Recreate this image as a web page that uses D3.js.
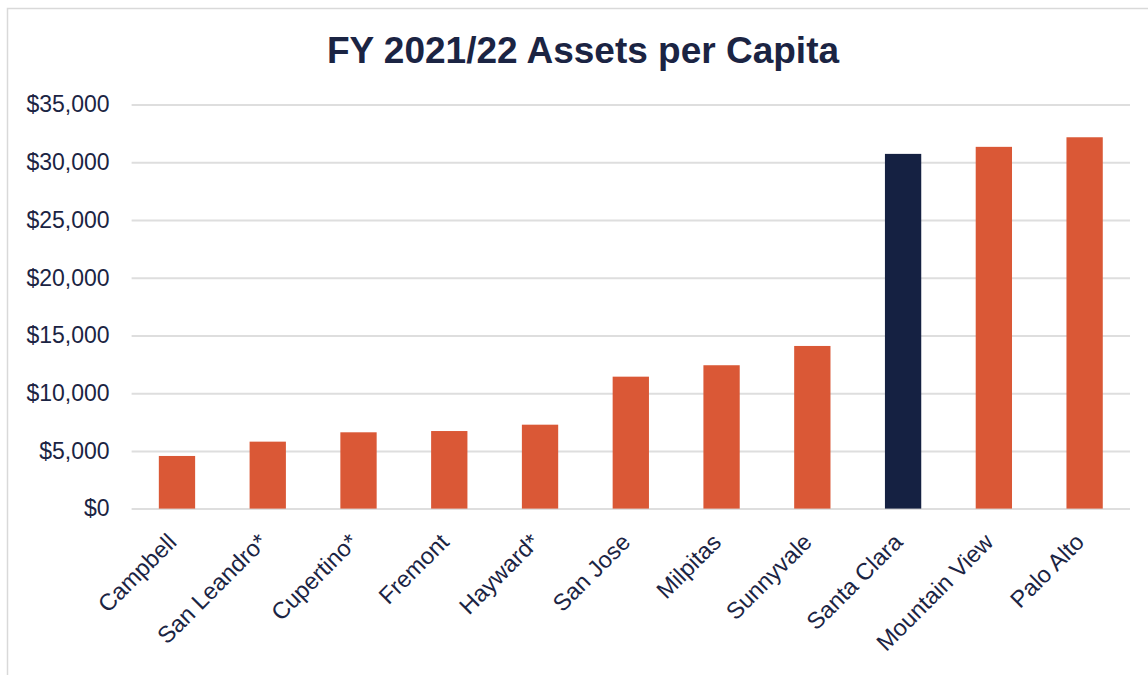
<!DOCTYPE html>
<html>
<head>
<meta charset="utf-8">
<script src="https://cdn.jsdelivr.net/npm/d3@7"></script>
<style>
  html, body { margin: 0; padding: 0; background: #ffffff; }
  svg { display: block; }
</style>
</head>
<body>
<svg id="chart" width="1148" height="675"></svg>
<script>
const categories = ["Campbell", "San Leandro*", "Cupertino*", "Fremont", "Hayward*", "San Jose", "Milpitas", "Sunnyvale", "Santa Clara", "Mountain View", "Palo Alto"];
const values = [4560, 5800, 6610, 6720, 7270, 11430, 12420, 14090, 30730, 31340, 32170];
const highlight = ["Santa Clara"];
const yTicks = [0, 5000, 10000, 15000, 20000, 25000, 30000, 35000];
const title = "FY 2021/22 Assets per Capita";

const textColor = "#1b2443";
const orange = "#DA5836";
const navy = "#152142";
const gridColor = "#dedede";
const font = "'Liberation Sans', Arial, sans-serif";

const svg = d3.select("#chart");

// Outer chart border
svg.append("rect")
  .attr("x", 7.5).attr("y", 8.5)
  .attr("width", 1300).attr("height", 800)
  .attr("fill", "none")
  .attr("stroke", "#d9d9d9")
  .attr("stroke-width", 1.5);

const plot = { left: 131.6, right: 1130, top: 104.6, bottom: 508.6 };

const x = d3.scaleBand()
  .domain(categories)
  .range([plot.left, plot.right])
  .paddingInner(0.6)
  .paddingOuter(0.3);

const y = d3.scaleLinear()
  .domain([0, 35000])
  .range([plot.bottom, plot.top]);

// Title
svg.append("text")
  .attr("x", 583)
  .attr("y", 63)
  .attr("text-anchor", "middle")
  .attr("font-family", font)
  .attr("font-weight", "bold")
  .attr("font-size", 37)
  .attr("fill", textColor)
  .text(title);

// Gridlines + y labels via axis
const yAxis = d3.axisLeft(y)
  .tickValues(yTicks)
  .tickSize(-(plot.right - plot.left))
  .tickPadding(22)
  .tickFormat(d => "$" + d3.format(",")(d));

const gy = svg.append("g")
  .attr("transform", `translate(${plot.left},0)`)
  .call(yAxis);
gy.select(".domain").remove();
gy.selectAll(".tick line")
  .attr("stroke", gridColor)
  .attr("stroke-width", 2);
gy.selectAll(".tick text")
  .attr("font-family", font)
  .attr("font-size", 23)
  .attr("fill", textColor);

// Bars
svg.append("g").selectAll("rect")
  .data(categories)
  .join("rect")
  .attr("x", d => x(d))
  .attr("width", x.bandwidth())
  .attr("y", (d, i) => y(values[i]))
  .attr("height", (d, i) => y(0) - y(values[i]))
  .attr("fill", d => highlight.includes(d) ? navy : orange);

// Category labels rotated
const xAxis = d3.axisBottom(x).tickSize(0).tickPadding(0);
const gx = svg.append("g")
  .attr("transform", `translate(0,${plot.bottom})`)
  .call(xAxis);
gx.select(".domain").remove();
gx.selectAll(".tick text")
  .attr("font-family", font)
  .attr("font-size", 23.5)
  .attr("fill", textColor)
  .attr("text-anchor", "end")
  .attr("dy", null)
  .attr("y", null)
  .attr("transform", "translate(1,35) rotate(-45)");
</script>
</body>
</html>
